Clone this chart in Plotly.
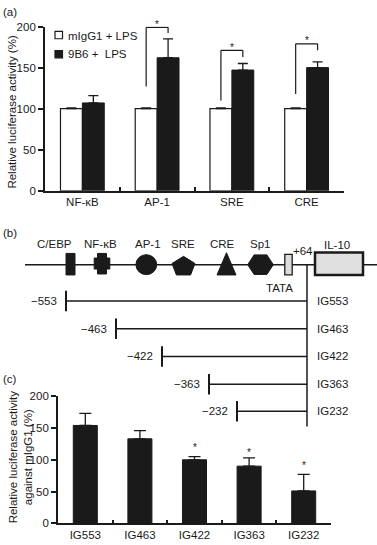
import math
import plotly.graph_objects as go

# ---------------- data ----------------
# Panel (a): reporter activity, % of control
a_categories = ["NF-κB", "AP-1", "SRE", "CRE"]
a_series_names = ["mIgG1 + LPS", "9B6 +  LPS"]
a_migg1 = [100, 100, 100, 100]
a_migg1_err = [1, 1, 1, 1]
a_9b6 = [107, 162, 147, 150]
a_9b6_err = [9, 23, 8, 7]
a_yticks = [0, 50, 100, 150, 200]
# significance brackets (values in %): left leg bottom, top, right leg bottom
a_sig_categories = ["AP-1", "SRE", "CRE"]
a_sig_left = [127, 110, 118]
a_sig_top = [199, 171, 179]
a_sig_right = [192, 163, 171]

# Panel (b): IL-10 promoter map and deletion constructs
b_elements = ["C/EBP", "NF-κB", "AP-1", "SRE", "CRE", "Sp1"]
b_constructs = ["IG553", "IG463", "IG422", "IG363", "IG232"]
b_construct_starts = ["−553", "−463", "−422", "−363", "−232"]
b_end_label = "+64"
b_gene = "IL-10"
b_tata = "TATA"

# Panel (c): deletion construct activity, % of mIgG1
c_categories = ["IG553", "IG463", "IG422", "IG363", "IG232"]
c_values = [154, 133, 100, 90, 51]
c_err = [19, 13, 5, 13, 26]
c_star_y = [None, None, 123, 115, 94]
c_yticks = [0, 50, 100, 150, 200]

# ---------------- layout helpers ----------------
W, H = 377, 545
FONT = "Liberation Sans, Arial, Helvetica, sans-serif"
INK = "#1a1a1a"
FS = 11.5


def fx(p):
    return p / W


def fy(p):
    return 1 - p / H


# schematic coordinates of panel (b) (map drawn in a 377-wide frame)
b_elem_x = [70.5, 102, 146.3, 183.5, 226.5, 260.5]
b_label_x = [54, 100, 147.5, 182.5, 222, 260]
b_line_y = 264.5
b_construct_x = [66, 116, 162, 209, 237]
b_construct_y = [301.7, 330, 358.3, 386.7, 414.3]
b_junction_x = 307
b_tata_x = 288.5
b_gene_box = (315, 363, 252, 275)

fig = go.Figure()

# ---- panel (a) bars ----
bw = 0.293
fig.add_trace(go.Bar(
    x=a_categories, y=a_migg1, name=a_series_names[0], width=bw, offset=-bw,
    marker=dict(color="white", line=dict(color=INK, width=1.2)),
    error_y=dict(type="data", symmetric=False, array=a_migg1_err,
                 arrayminus=[0] * len(a_migg1), color=INK, thickness=1.3, width=5),
    xaxis="x", yaxis="y", showlegend=False))
fig.add_trace(go.Bar(
    x=a_categories, y=a_9b6, name=a_series_names[1], width=bw, offset=0,
    marker=dict(color=INK, line=dict(color=INK, width=1)),
    error_y=dict(type="data", symmetric=False, array=a_9b6_err,
                 arrayminus=[0] * len(a_9b6), color=INK, thickness=1.3, width=5),
    xaxis="x", yaxis="y", showlegend=False))

# ---- panel (c) bars ----
fig.add_trace(go.Bar(
    x=c_categories, y=c_values, name="9B6 / mIgG1", width=0.44,
    marker=dict(color=INK, line=dict(color=INK, width=1)),
    error_y=dict(type="data", symmetric=False, array=c_err,
                 arrayminus=[0] * len(c_values), color=INK, thickness=1.3, width=6),
    xaxis="x2", yaxis="y2", showlegend=False))

# ---- panel (b) lines (schematic) ----
line_kw = dict(mode="lines", xaxis="x3", yaxis="y3", showlegend=False,
               hoverinfo="skip")
fig.add_trace(go.Scatter(x=[25, 377], y=[b_line_y, b_line_y],
                         line=dict(color=INK, width=1.5), **line_kw))
fig.add_trace(go.Scatter(x=[b_junction_x, b_junction_x], y=[b_line_y, 430],
                         line=dict(color=INK, width=1.5), **line_kw))
for name, sx, sy in zip(b_constructs, b_construct_x, b_construct_y):
    fig.add_trace(go.Scatter(x=[sx, b_junction_x], y=[sy, sy], name=name,
                             line=dict(color=INK, width=1.5), **line_kw))
    fig.add_trace(go.Scatter(x=[sx, sx], y=[sy - 10.5, sy + 10.5],
                             line=dict(color=INK, width=2), **line_kw))

shapes = []
annotations = []


def poly(points):
    return "M " + " L ".join(f"{x:.2f},{y:.2f}" for x, y in points) + " Z"


def b_shape(path=None, **kw):
    d = dict(xref="x3", yref="y3", fillcolor=INK, line=dict(color=INK, width=1),
             layer="above")
    if path:
        d.update(type="path", path=path)
    d.update(kw)
    shapes.append(d)


cy = b_line_y
# C/EBP : bar
x0 = b_elem_x[0]
b_shape(type="rect", x0=x0 - 4.5, x1=x0 + 4.5, y0=253, y1=275)
# NF-kB : cross
x0 = b_elem_x[1]
b_shape(poly([(x0 - 4.5, 253), (x0 + 4.5, 253), (x0 + 4.5, 257.7), (x0 + 7.8, 257.7),
              (x0 + 7.8, 269), (x0 + 4.5, 269), (x0 + 4.5, 274), (x0 - 4.5, 274),
              (x0 - 4.5, 269), (x0 - 7.8, 269), (x0 - 7.8, 257.7), (x0 - 4.5, 257.7)]))
# AP-1 : circle
x0 = b_elem_x[2]
b_shape(type="circle", x0=x0 - 10.4, x1=x0 + 10.4, y0=cy - 10.2, y1=cy + 10.2)
# SRE : pentagon
x0 = b_elem_x[3]
R = 10.5
pts = []
for k in range(5):
    ang = -math.pi / 2 + k * 2 * math.pi / 5
    pts.append((x0 + 1.15 * R * math.cos(ang), 266.5 + R * math.sin(ang)))
b_shape(poly(pts))
# CRE : triangle
x0 = b_elem_x[4]
b_shape(poly([(x0, 252.3), (x0 + 9.5, 275), (x0 - 9.5, 275)]))
# Sp1 : hexagon (pointed sides)
x0 = b_elem_x[5]
b_shape(poly([(x0 - 12.8, cy), (x0 - 6.4, cy - 10), (x0 + 6.4, cy - 10),
              (x0 + 12.8, cy), (x0 + 6.4, cy + 10), (x0 - 6.4, cy + 10)]))
# TATA box
b_shape(type="rect", x0=b_tata_x - 3.7, x1=b_tata_x + 3.7, y0=254, y1=275,
        fillcolor="#dcdcdc", line=dict(color=INK, width=1.3))
# IL-10 gene box
gx0, gx1, gy0, gy1 = b_gene_box
b_shape(type="rect", x0=gx0, x1=gx1, y0=gy0, y1=gy1,
        fillcolor="#e0e0e0", line=dict(color=INK, width=2.5))

# panel (b) texts
txt = dict(xref="x3", yref="y3", showarrow=False, font=dict(family=FONT, size=FS, color=INK))
for lab, lx in zip(b_elements, b_label_x):
    annotations.append(dict(x=lx, y=243, text=lab, xanchor="center", yanchor="middle", **txt))
annotations.append(dict(x=(gx0 + gx1) / 2 - 2, y=244.5, text=b_gene, xanchor="center",
                        yanchor="middle", **txt))
annotations.append(dict(x=302.5, y=251, text=b_end_label, xanchor="center",
                        yanchor="middle", **txt))
annotations.append(dict(x=279, y=288, text=b_tata, xanchor="center", yanchor="middle", **txt))
for name, start, sx, sy in zip(b_constructs, b_construct_starts, b_construct_x, b_construct_y):
    annotations.append(dict(x=sx - 7, y=sy, text=start, xanchor="right", yanchor="middle", **txt))
    annotations.append(dict(x=b_junction_x + 8, y=sy, text=name, xanchor="left",
                            yanchor="middle", **txt))

# ---- panel (a) significance brackets ----
for cat, yl, yt, yr in zip(a_sig_categories, a_sig_left, a_sig_top, a_sig_right):
    i = a_categories.index(cat)
    xl, xr = i - bw / 2, i + bw / 2
    for (xa, ya, xb, yb) in [(xl, yl, xl, yt), (xl, yt, xr, yt), (xr, yt, xr, yr)]:
        shapes.append(dict(type="line", xref="x", yref="y", x0=xa, y0=ya, x1=xb, y1=yb,
                           line=dict(color=INK, width=1.2)))
    annotations.append(dict(x=cat, y=yt, xref="x", yref="y", text="*", showarrow=False,
                            yanchor="middle", yshift=3,
                            font=dict(family=FONT, size=10, color=INK)))

# ---- panel (c) stars ----
for cat, sy in zip(c_categories, c_star_y):
    if sy is not None:
        annotations.append(dict(x=cat, y=sy, xref="x2", yref="y2", text="*", showarrow=False,
                                yanchor="middle", yshift=-2,
                                font=dict(family=FONT, size=10, color=INK)))

# ---- manual legend for panel (a) ----
shapes.append(dict(type="rect", xref="paper", yref="paper", x0=fx(55), x1=fx(62.5),
                   y0=fy(33.5), y1=fy(26), fillcolor="white", line=dict(color=INK, width=1.2)))
shapes.append(dict(type="rect", xref="paper", yref="paper", x0=fx(55), x1=fx(62.5),
                   y0=fy(53), y1=fy(45.5), fillcolor=INK, line=dict(color=INK, width=1.2)))
ptxt = dict(xref="paper", yref="paper", showarrow=False,
            font=dict(family=FONT, size=FS, color=INK))
annotations.append(dict(x=fx(65.5), y=fy(30.5), text=a_series_names[0], xanchor="left",
                        yanchor="middle", **ptxt))
annotations.append(dict(x=fx(65.5), y=fy(49.5), text=a_series_names[1], xanchor="left",
                        yanchor="middle", **ptxt))

# panel letters and y titles
for lab, py in [("(a)", 6), ("(b)", 232), ("(c)", 381)]:
    annotations.append(dict(x=fx(1), y=fy(py), text=lab, xanchor="left", yanchor="middle", **ptxt))
annotations.append(dict(x=fx(12), y=fy(108), text="Relative luciferase activity (%)",
                        textangle=-90, xanchor="center", yanchor="middle", **ptxt))
annotations.append(dict(x=fx(20.5), y=fy(461),
                        text="Relative luciferase activity<br>against mIgG1 (%)",
                        textangle=-90, xanchor="center", yanchor="middle", **ptxt))

tickfont = dict(family=FONT, size=FS, color=INK)
xcat = dict(type="category", showline=True, linecolor=INK, linewidth=1.5, ticks="inside",
            tickson="boundaries", ticklen=4, tickwidth=1.5, tickcolor=INK, showgrid=False,
            zeroline=False, tickfont=tickfont, fixedrange=True)
ynum = dict(range=[0, 200], showline=True, linecolor=INK, linewidth=1.8, ticks="outside",
            ticklen=5, tickwidth=1.5, tickcolor=INK, showgrid=False, zeroline=False,
            tickfont=tickfont, fixedrange=True)

fig.update_layout(
    width=W, height=H, autosize=False,
    margin=dict(l=0, r=0, t=0, b=0),
    paper_bgcolor="white", plot_bgcolor="rgba(0,0,0,0)",
    font=dict(family=FONT, size=FS, color=INK),
    barmode="group",
    xaxis=dict(domain=[fx(45), fx(344)], range=[-0.5, 3.5], anchor="y", **xcat),
    yaxis=dict(domain=[fy(189), fy(21)], anchor="x", tickvals=a_yticks, **ynum),
    xaxis2=dict(domain=[fx(58), fx(331)], range=[-0.5, 4.5], anchor="y2", **xcat),
    yaxis2=dict(domain=[fy(529), fy(399)], anchor="x2", tickvals=c_yticks, **ynum),
    xaxis3=dict(domain=[0, 1], range=[0, W], anchor="y3", visible=False, fixedrange=True),
    yaxis3=dict(domain=[fy(440), fy(228)], range=[440, 228], anchor="x3", visible=False,
                fixedrange=True),
    shapes=shapes,
    annotations=annotations,
    showlegend=False,
)

# remove the browser's default 8px page margin so the figure sits at the window origin
fig.write_html("out.html", config={"displayModeBar": False},
               post_script="document.body.style.margin='0';document.body.style.overflow='hidden';")
